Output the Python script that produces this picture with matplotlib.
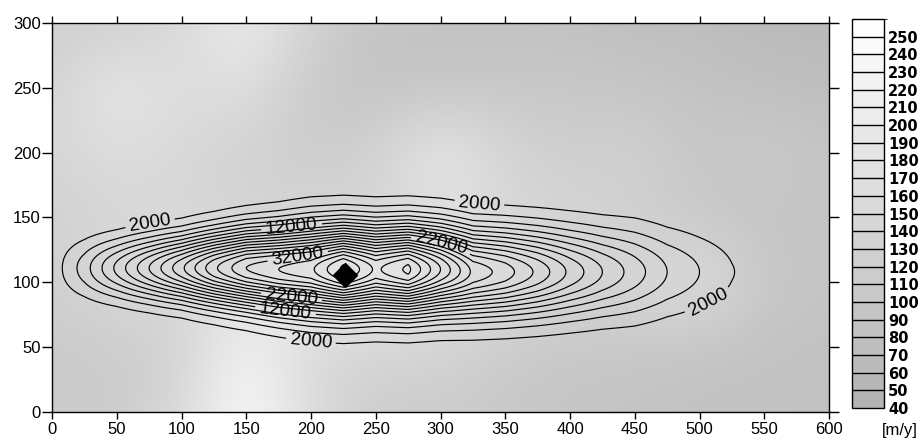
import matplotlib
matplotlib.use('Agg')
import matplotlib.pyplot as plt
import numpy as np
from matplotlib.colors import LinearSegmentedColormap, ListedColormap, BoundaryNorm, Normalize
from matplotlib.cm import ScalarMappable

plt.rcParams['font.family'] = ['Liberation Sans', 'DejaVu Sans']

# recharge [m/y], read on a 50 m grid (rows: y = 0..300, cols: x = 0..600)
rch_x = [0, 50, 100, 150, 200, 250, 300, 350, 400, 450, 500, 550, 600]
rch_y = [0, 50, 100, 150, 200, 250, 300]
rch = [
    [115, 110, 155, 250, 160, 110, 115, 105, 95, 90, 85, 85, 85],
    [110, 115, 130, 235, 150, 150, 140, 115, 105, 105, 95, 90, 85],
    [125, 155, 155, 165, 200, 205, 175, 165, 145, 145, 175, 105, 95],
    [130, 145, 150, 140, 140, 140, 165, 150, 140, 125, 105, 95, 95],
    [145, 165, 150, 130, 115, 130, 205, 140, 120, 130, 100, 115, 95],
    [135, 200, 160, 175, 105, 95, 95, 105, 105, 100, 90, 80, 75],
    [125, 125, 150, 215, 130, 95, 90, 85, 85, 75, 75, 65, 65],
]

# plume: centreline concentration, lateral width and centre, read every 25 m
st_x = [0, 25, 50, 75, 100, 125, 150, 175, 200, 225, 250, 275, 300,
        325, 350, 375, 400, 425, 450, 475, 500, 525, 550, 575, 600]
st_peak = [600, 5000, 10500, 16000, 21500, 27500, 32000, 34000, 35500, 40500, 35500, 38500, 32000,
           25500, 23000, 19500, 15500, 12000, 9000, 6000, 4000, 2100, 900, 300, 100]
st_width = [22, 23, 23, 24, 25, 27, 29, 31, 33, 33, 33, 33, 33,
            33, 33, 33, 33, 33, 34, 33, 32, 30, 28, 26, 25]
st_center = [111, 111, 111, 111, 111, 111, 111, 110, 110, 110, 110, 110, 110,
             108, 108, 108, 108, 108, 108, 108, 108, 108, 108, 108, 108]

levels = list(range(2000, 42000, 2000))
label_levels = [2000, 12000, 22000, 32000]
label_pos = [(75, 150), (330, 160), (200, 55), (505, 88),
             (185, 143), (180, 75), (300, 128), (185, 89), (190, 118)]

well = (226, 106)
cbar_ticks = list(range(40, 260, 10))

fig = plt.figure(figsize=(9.23, 4.42), dpi=100)
ax = fig.add_axes([52 / 923, 30 / 442, 777 / 923, 389 / 442])

gray = LinearSegmentedColormap.from_list('rch', ['#b2b2b2', '#ffffff'])
ax.imshow(np.array(rch), origin='lower', cmap=gray, norm=Normalize(40, 260),
          extent=[-25, 625, -25, 325], interpolation='bicubic', aspect='auto', zorder=0)

# concentration field from the read centreline profile
xs = np.array(st_x, dtype=float)
ys = np.arange(0, 301, 1.0)
A = np.array(st_peak, dtype=float)
W = np.array(st_width, dtype=float)
C = np.array(st_center, dtype=float)
Z = A[None, :] * np.exp(-((ys[:, None] - C[None, :]) / W[None, :]) ** 2)

plain = [lv for lv in levels if lv not in label_levels]
ax.contour(xs, ys, Z, levels=plain, colors='black', linewidths=0.85, zorder=2)
cs = ax.contour(xs, ys, Z, levels=label_levels, colors='black', linewidths=0.85, zorder=2)
ax.clabel(cs, manual=label_pos, fmt='%d', fontsize=13.5, inline=True, inline_spacing=2)

ax.plot(*well, marker='D', color='black', markersize=12, zorder=4)

ax.set_xlim(0, 600)
ax.set_ylim(0, 300)
ax.set_xticks(range(0, 601, 50))
ax.set_yticks(range(0, 301, 50))
ax.tick_params(direction='out', length=7, width=1, labelsize=12, pad=1,
               top=True, right=True, labeltop=False, labelright=False)
ax.tick_params(axis='x', length=5, pad=2)
for s in ax.spines.values():
    s.set_linewidth(1)

# colour bar
cax = fig.add_axes([852 / 923, 34 / 442, 32 / 923, 389 / 442])
bounds = np.arange(40, 270, 10)
mids = (bounds[:-1] + bounds[1:]) / 2
dcmap = ListedColormap(gray(Normalize(40, 260)(mids)))
cb = fig.colorbar(ScalarMappable(norm=BoundaryNorm(bounds, dcmap.N), cmap=dcmap),
                  cax=cax, ticks=cbar_ticks, drawedges=True)
cb.outline.set_linewidth(1)
cb.dividers.set_linewidth(1)
cax.tick_params(length=0, pad=3)
for t in cax.get_yticklabels():
    t.set_fontfamily('DejaVu Sans')
    t.set_fontweight('bold')
    t.set_fontsize(10.5)
fig.text(918 / 923, 1 - 430 / 442, '[m/y]', ha='right', va='center', fontsize=12)

fig.savefig('out.png', dpi=100)
